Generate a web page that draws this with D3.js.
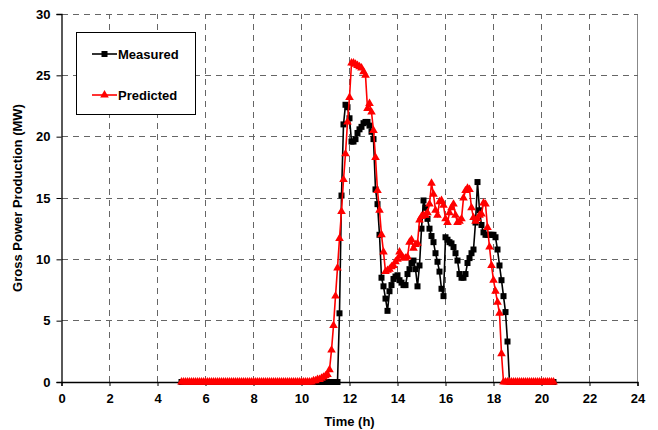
<!DOCTYPE html>
<html>
<head>
<meta charset="utf-8">
<script src="https://cdn.jsdelivr.net/npm/d3@7"></script>
<style>
  body { margin: 0; background: #fff; }
  text { font-family: "Liberation Sans", Arial, sans-serif; font-weight: bold; }
</style>
</head>
<body>
<div id="chart"></div>
<script>
// samples every 5 minutes, starting at 05:00 (one row = one hour)
const startHour = 5;
const stepHours = 1 / 12;

const measured = [
  0, 0, 0, 0, 0, 0, 0, 0, 0, 0, 0, 0,                      // 5h
  0, 0, 0, 0, 0, 0, 0, 0, 0, 0, 0, 0,                      // 6h
  0, 0, 0, 0, 0, 0, 0, 0, 0, 0, 0, 0,                      // 7h
  0, 0, 0, 0, 0, 0, 0, 0, 0, 0, 0, 0,                      // 8h
  0, 0, 0, 0, 0, 0, 0, 0, 0, 0, 0, 0,                      // 9h
  0, 0, 0, 0, 0, 0, 0, 0, 0, 0, 0, 0,                      // 10h
  0, 0, 0, 0, 0, 0, 0, 5.6, 15.2, 21.0, 22.6, 22.4,        // 11h
  21.5, 19.6, 19.6, 19.8, 20.3, 20.6, 20.8, 21.1, 21.2, 21.2, 20.9, 20.4, // 12h
  19.8, 15.7, 14.5, 12.0, 8.5, 7.8, 6.8, 5.8, 7.4, 7.9, 8.4, 8.6,         // 13h
  8.7, 8.3, 8.1, 7.9, 7.9, 8.8, 9.2, 9.7, 9.9, 9.2, 7.8, 9.5,             // 14h
  12.5, 14.8, 14.2, 13.3, 12.5, 11.9, 11.4, 10.5, 9.8, 9.0, 7.6, 7.0,     // 15h
  11.8, 11.6, 11.4, 11.3, 11.0, 10.5, 9.9, 8.8, 8.5, 8.5, 8.8, 9.7,       // 16h
  10.1, 10.5, 10.8, 13.0, 16.3, 14.0, 12.8, 12.2, 12.0, 12.0, 12.0, 12.0, // 17h
  12.0, 11.8, 10.8, 9.5, 8.3, 7.0, 5.7, 3.3, 0, 0, 0, 0,                  // 18h
  0, 0, 0, 0, 0, 0, 0, 0, 0, 0, 0, 0,                      // 19h
  0, 0, 0, 0, 0, 0, 0                                      // 20h
];

const predicted = [
  0, 0, 0, 0, 0, 0, 0, 0, 0, 0, 0, 0,                      // 5h
  0, 0, 0, 0, 0, 0, 0, 0, 0, 0, 0, 0,                      // 6h
  0, 0, 0, 0, 0, 0, 0, 0, 0, 0, 0, 0,                      // 7h
  0, 0, 0, 0, 0, 0, 0, 0, 0, 0, 0, 0,                      // 8h
  0, 0, 0, 0, 0, 0, 0, 0, 0, 0, 0, 0,                      // 9h
  0, 0, 0, 0, 0, 0, 0.1, 0.1, 0.2, 0.2, 0.3, 0.4,          // 10h
  0.5, 0.6, 1.0, 2.6, 4.6, 7.0, 9.3, 11.7, 13.9, 16.5, 18.6, 21.2,        // 11h
  23.2, 26.0, 26.0, 25.9, 25.8, 25.7, 25.6, 25.3, 25.0, 22.3, 22.7, 22.0, // 12h
  20.5, 18.3, 15.6, 14.0, 12.0, 10.6, 9.0, 9.1, 9.2, 9.4, 9.5, 9.8,       // 13h
  10.0, 10.6, 10.3, 10.1, 10.1, 10.2, 11.4, 11.6, 10.9, 11.2, 11.3, 13.2, // 14h
  13.5, 13.6, 13.6, 13.8, 14.5, 16.2, 15.3, 14.0, 13.6, 14.7, 14.8, 14.4, // 15h
  13.3, 13.0, 13.8, 14.2, 14.5, 13.6, 13.0, 13.1, 13.3, 15.0, 15.6, 15.8, // 16h
  15.7, 14.2, 13.4, 13.1, 13.3, 13.6, 13.7, 14.6, 14.5, 12.6, 11.0, 9.5,  // 17h
  8.3, 7.4, 6.5, 5.6, 2.3, 0, 0, 0, 0, 0, 0, 0,            // 18h
  0, 0, 0, 0, 0, 0, 0, 0, 0, 0, 0, 0,                      // 19h
  0, 0, 0, 0, 0, 0, 0                                      // 20h
];

const xTicks = [0, 2, 4, 6, 8, 10, 12, 14, 16, 18, 20, 22, 24];
const yTicks = [0, 5, 10, 15, 20, 25, 30];
const seriesNames = ['Measured', 'Predicted'];

const W = 658, H = 430;
const margin = { top: 14, right: 20.5, bottom: 48, left: 61.5 };

const svg = d3.select('#chart')
  .append('svg')
  .attr('width', W)
  .attr('height', H);

const x = d3.scaleLinear().domain([0, 24]).range([margin.left, W - margin.right]);
const y = d3.scaleLinear().domain([0, 30]).range([H - margin.bottom, margin.top]);

const time = measured.map((d, i) => startHour + i * stepHours);

// grid (the last vertical one is the solid plot border)
svg.append('g')
  .selectAll('line')
  .data(xTicks.slice(1))
  .enter()
  .append('line')
  .attr('x1', d => x(d)).attr('x2', d => x(d))
  .attr('y1', y(0)).attr('y2', y(30))
  .attr('stroke', d => d === 24 ? '#888' : '#666')
  .attr('stroke-dasharray', d => d === 24 ? null : '6,5')
  .attr('shape-rendering', 'crispEdges');

svg.append('g')
  .selectAll('line')
  .data(yTicks.slice(1))
  .enter()
  .append('line')
  .attr('x1', x(0)).attr('x2', x(24))
  .attr('y1', d => y(d)).attr('y2', d => y(d))
  .attr('stroke', '#666')
  .attr('stroke-dasharray', '6,5')
  .attr('shape-rendering', 'crispEdges');

// axes
const xAxis = svg.append('g')
  .attr('transform', `translate(0,${y(0)})`)
  .call(d3.axisBottom(x).tickValues(xTicks).tickSize(4).tickPadding(8));
const yAxis = svg.append('g')
  .attr('transform', `translate(${x(0)},0)`)
  .call(d3.axisLeft(y).tickValues(yTicks).tickSize(5).tickPadding(6));

[xAxis, yAxis].forEach(g => {
  g.select('.domain').attr('stroke', '#000').attr('stroke-width', 1.3);
  g.selectAll('.tick line').attr('stroke', '#000');
  g.selectAll('.tick text')
    .attr('fill', '#000')
    .style('font-size', '13px')
    .style('font-family', '"Liberation Sans", Arial, sans-serif')
    .style('font-weight', 'bold');
});

svg.append('text')
  .attr('x', (x(0) + x(24)) / 2)
  .attr('y', 426)
  .attr('text-anchor', 'middle')
  .style('font-size', '13px')
  .text('Time (h)');

svg.append('text')
  .attr('transform', `translate(22,${(y(0) + y(30)) / 2}) rotate(-90)`)
  .attr('text-anchor', 'middle')
  .style('font-size', '13px')
  .text('Gross Power Production (MW)');

// series
const line = d3.line()
  .x((d, i) => x(time[i]))
  .y(d => y(d));

const triangle = d3.symbol().type(d3.symbolTriangle).size(32);

function drawSeries(values, color, isSquare) {
  svg.append('path')
    .datum(values)
    .attr('fill', 'none')
    .attr('stroke', color)
    .attr('stroke-width', 1.6)
    .attr('d', line);

  const g = svg.append('g');
  if (isSquare) {
    g.selectAll('rect')
      .data(values)
      .enter()
      .append('rect')
      .attr('x', (d, i) => x(time[i]) - 3)
      .attr('y', d => y(d) - 3)
      .attr('width', 6)
      .attr('height', 6)
      .attr('fill', color);
  } else {
    g.selectAll('path')
      .data(values)
      .enter()
      .append('path')
      .attr('d', triangle)
      .attr('transform', (d, i) => `translate(${x(time[i])},${y(d)})`)
      .attr('fill', color);
  }
}

drawSeries(measured, '#000', true);
drawSeries(predicted, '#ff0000', false);

// legend
const legend = svg.append('g');
legend.append('rect')
  .attr('x', 76.5).attr('y', 32.5)
  .attr('width', 119).attr('height', 82)
  .attr('fill', '#fff')
  .attr('stroke', '#000');

seriesNames.forEach((name, i) => {
  const ly = 54 + i * 41;
  const color = i === 0 ? '#000' : '#ff0000';
  legend.append('line')
    .attr('x1', 92).attr('x2', 117)
    .attr('y1', ly).attr('y2', ly)
    .attr('stroke', color).attr('stroke-width', 1.6);
  if (i === 0) {
    legend.append('rect')
      .attr('x', 101.5).attr('y', ly - 3)
      .attr('width', 6).attr('height', 6)
      .attr('fill', color);
  } else {
    legend.append('path')
      .attr('d', triangle)
      .attr('transform', `translate(104.5,${ly})`)
      .attr('fill', color);
  }
  legend.append('text')
    .attr('x', 118)
    .attr('y', ly + 4.5)
    .style('font-size', '13px')
    .text(name);
});
</script>
</body>
</html>
